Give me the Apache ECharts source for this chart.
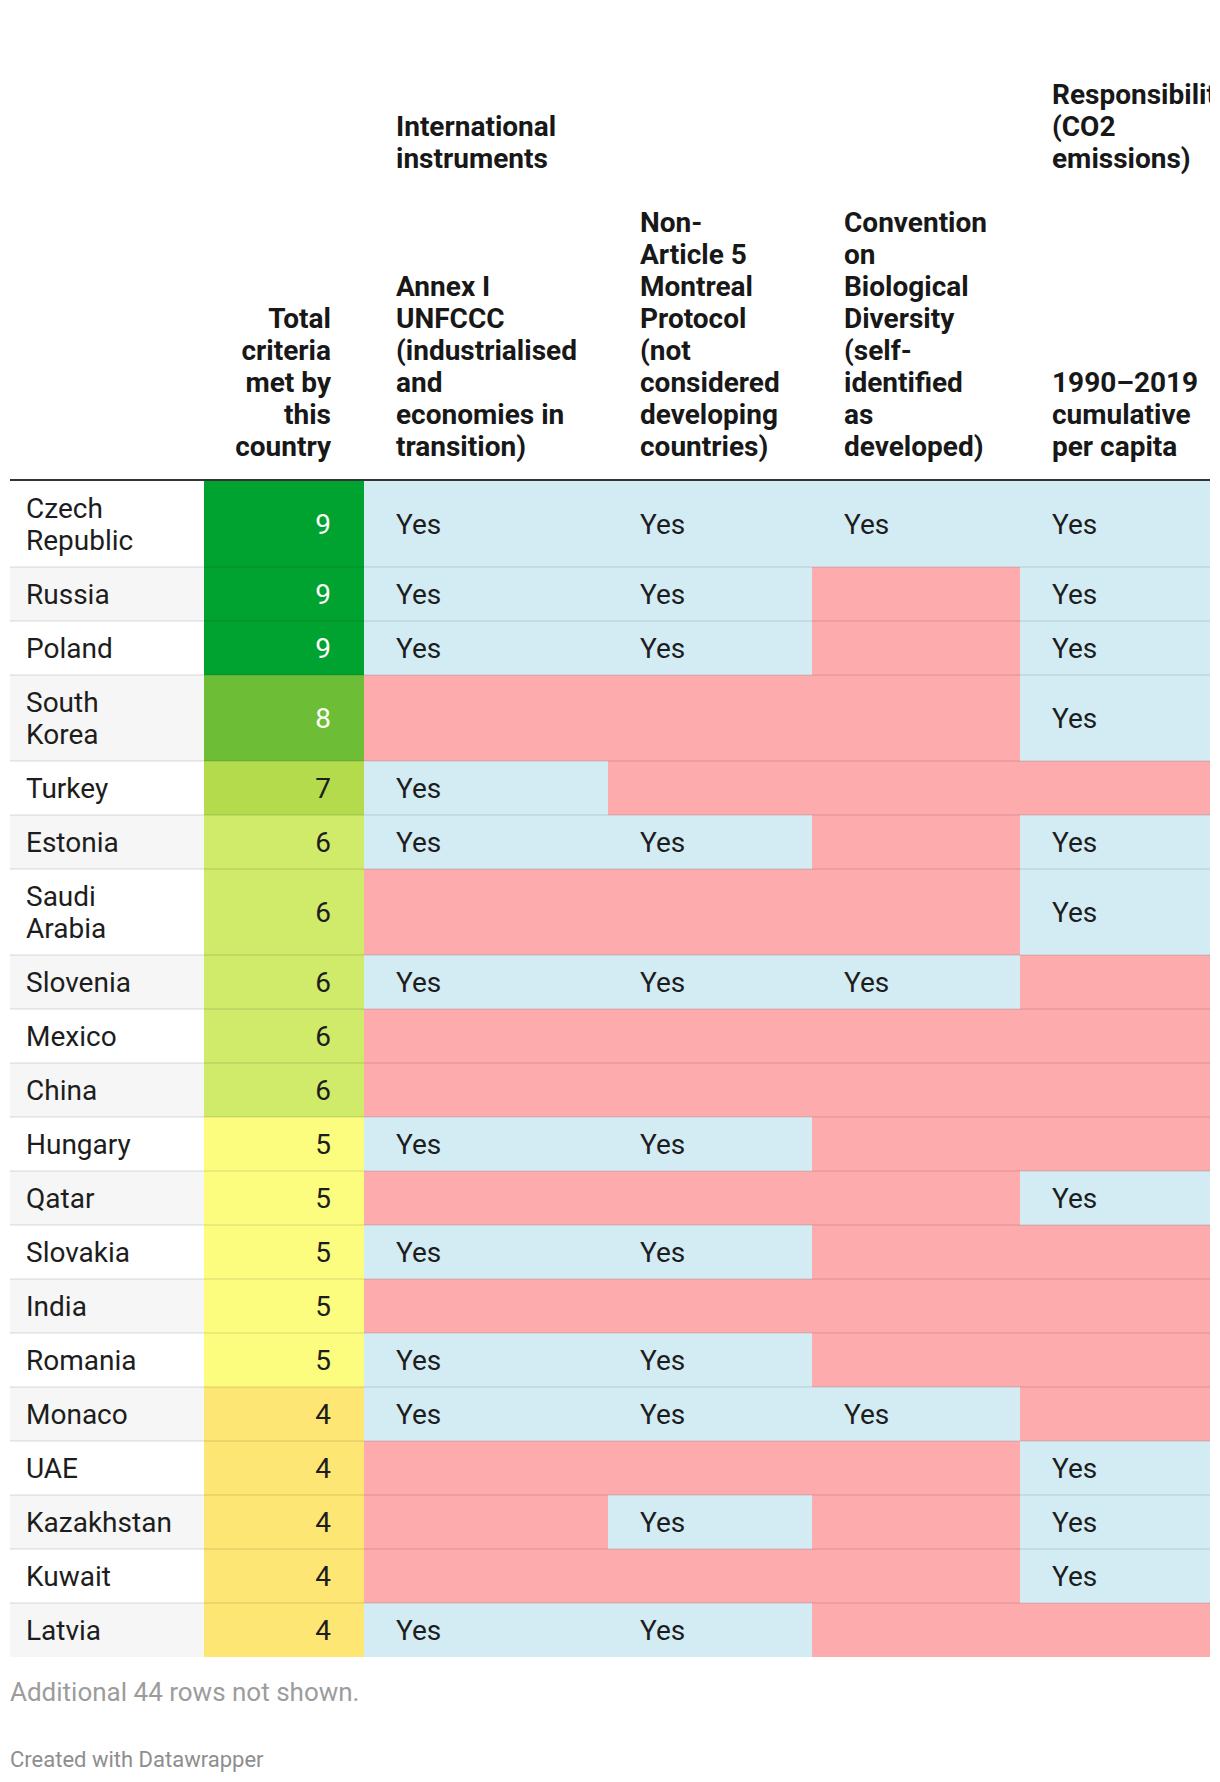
<!DOCTYPE html>
<html><head><meta charset="utf-8">
<script src="https://cdn.jsdelivr.net/npm/echarts@6/dist/echarts.min.js"></script>
<style>html,body{margin:0;padding:0;background:#fff;overflow:hidden}#c{width:1210px;height:1782px}</style>
</head><body><div id="c"></div>
<script>
// ---------- DATA ----------
const countries = ['Czech Republic','Russia','Poland','South Korea','Turkey','Estonia','Saudi Arabia','Slovenia','Mexico','China','Hungary','Qatar','Slovakia','India','Romania','Monaco','UAE','Kazakhstan','Kuwait','Latvia'];
const totals = [9,9,9,8,7,6,6,6,6,6,5,5,5,5,5,4,4,4,4,4];
const annexI =         [1,1,1,0,1,1,0,1,0,0,1,0,1,0,1,1,0,0,0,1];
const nonArticle5 =    [1,1,1,0,0,1,0,1,0,0,1,0,1,0,1,1,0,1,0,1];
const cbdDeveloped =   [1,0,0,0,0,0,0,1,0,0,0,0,0,0,0,1,0,0,0,0];
const responsibility = [1,1,1,1,0,1,1,0,0,0,0,1,0,0,0,0,1,1,1,0];
const groupHeaders = ['International\ninstruments', 'Responsibility\n(CO2\nemissions)'];
const columnHeaders = [
  '',
  'Total\ncriteria\nmet by\nthis\ncountry',
  'Annex I\nUNFCCC\n(industrialised\nand\neconomies in\ntransition)',
  'Non-\nArticle 5\nMontreal\nProtocol\n(not\nconsidered\ndeveloping\ncountries)',
  'Convention\non\nBiological\nDiversity\n(self-\nidentified\nas\ndeveloped)',
  '1990–2019\ncumulative\nper capita'
];
const yesLabel = 'Yes';
const noteText = 'Additional 44 rows not shown.';
const creditText = 'Created with Datawrapper';

// ---------- LAYOUT / STYLE ----------
const FONT = 'Roboto, "Noto Sans", sans-serif';
const FS = 28, LH = 32, ROWPAD = 22;
const colX = [0, 194, 354, 598, 802, 1010, 1200];   // column edges in table units
const TABLE_LEFT = 10, TABLE_TOP = 481;
const NAME_WRAP = 149;
const yesColor = '#d3ecf3', noColor = '#feabad';
const totalColors = {9:'#00a32f', 8:'#6dbe36', 7:'#b3db4c', 6:'#d0ea6a', 5:'#fcfc7f', 4:'#fde673'};
const textColor = '#1d1d1d';

// row heights from text wrapping
const cv = document.createElement('canvas').getContext('2d');
cv.font = FS + 'px ' + FONT;
const rowLines = countries.map(n => cv.measureText(n).width > NAME_WRAP ? 2 : 1);
const rowH = rowLines.map(l => ROWPAD + LH * l);
const rowTop = [];
let acc = 0;
rowH.forEach(h => { rowTop.push(acc); acc += h; });
const tableH = acc;

const criteria = [annexI, nonArticle5, cbdDeveloped, responsibility];

function renderRow(params, api) {
  const i = api.value(0);
  const top = rowTop[i], h = rowH[i];
  const kids = [];
  const cell = (c) => {
    const p0 = api.coord([colX[c], top]);
    const p1 = api.coord([colX[c + 1], top + h]);
    return {x: p0[0], y: p0[1], w: p1[0] - p0[0], h: p1[1] - p0[1]};
  };
  // country cell
  let r = cell(0);
  kids.push({type:'rect', shape:{x:r.x, y:r.y, width:r.w, height:r.h}, style:{fill: i % 2 ? '#f6f6f6' : '#ffffff'}});
  kids.push({type:'text', style:{x:r.x + 16, y:r.y + r.h / 2, text: countries[i], width: NAME_WRAP, overflow:'break',
    fontSize: FS, fontFamily: FONT, lineHeight: LH, fill: textColor, align:'left', verticalAlign:'middle'}});
  // total cell
  r = cell(1);
  const t = totals[i];
  kids.push({type:'rect', shape:{x:r.x, y:r.y, width:r.w, height:r.h}, style:{fill: totalColors[t]}});
  kids.push({type:'text', style:{x:r.x + r.w - 33, y:r.y + r.h / 2, text: String(t),
    fontSize: FS, fontFamily: FONT, fill: t >= 8 ? '#ffffff' : textColor, align:'right', verticalAlign:'middle'}});
  // criteria cells
  for (let k = 0; k < 4; k++) {
    r = cell(2 + k);
    const yes = criteria[k][i] === 1;
    kids.push({type:'rect', shape:{x:r.x, y:r.y, width:r.w, height:r.h}, style:{fill: yes ? yesColor : noColor}});
    if (yes) kids.push({type:'text', style:{x:r.x + 32, y:r.y + r.h / 2, text: yesLabel,
      fontSize: FS, fontFamily: FONT, fill: textColor, align:'left', verticalAlign:'middle'}});
  }
  // row separator
  if (i > 0) {
    const a = api.coord([colX[0], top]);
    const b = api.coord([colX[6], top]);
    kids.push({type:'rect', shape:{x:a[0], y:a[1] - 1, width:b[0] - a[0], height:2}, style:{fill:'rgba(0,0,0,0.07)'}});
  }
  return {type:'group', children: kids};
}

// header graphics
const headerGraphics = [];
const colLeft = (c) => TABLE_LEFT + colX[c];
const hdrStyle = {fontSize: FS, fontWeight: 'bold', fontFamily: FONT, lineHeight: LH, fill: '#181818', verticalAlign: 'bottom'};
headerGraphics.push({type:'text', left: null, x: colLeft(2) + 32, y: 174, style: Object.assign({}, hdrStyle, {text: groupHeaders[0], align:'left'})});
headerGraphics.push({type:'text', x: colLeft(5) + 32, y: 174, style: Object.assign({}, hdrStyle, {text: groupHeaders[1], align:'left'})});
headerGraphics.push({type:'text', x: colLeft(2) - 33, y: 462, style: Object.assign({}, hdrStyle, {text: columnHeaders[1], align:'right'})});
for (let c = 2; c <= 5; c++) {
  headerGraphics.push({type:'text', x: colLeft(c) + 32, y: 462, style: Object.assign({}, hdrStyle, {text: columnHeaders[c], align:'left'})});
}
headerGraphics.push({type:'rect', shape:{x: TABLE_LEFT, y: 479, width: 1200, height: 3}, style:{fill:'#333333'}});
headerGraphics.push({type:'text', x: TABLE_LEFT, y: TABLE_TOP + tableH + 35, style:{text: noteText, fontSize: 26, fontFamily: FONT, fill:'#9c9c9c', verticalAlign:'middle'}});
headerGraphics.push({type:'text', x: TABLE_LEFT, y: TABLE_TOP + tableH + 102, style:{text: creditText, fontSize: 22, fontFamily: FONT, fill:'#8e8e8e', verticalAlign:'middle'}});

const chart = echarts.init(document.getElementById('c'), null, {renderer: 'svg'});
chart.setOption({
  animation: false,
  backgroundColor: '#ffffff',
  grid: {left: TABLE_LEFT, top: TABLE_TOP, width: colX[6], height: tableH},
  xAxis: {type:'value', min: 0, max: colX[6], show: false},
  yAxis: {type:'value', min: 0, max: tableH, inverse: true, show: false},
  graphic: headerGraphics,
  series: [{
    type: 'custom',
    clip: false,
    renderItem: renderRow,
    data: countries.map((n, i) => [i]),
    encode: {x: [], y: []}
  }]
});
</script>
</body></html>
